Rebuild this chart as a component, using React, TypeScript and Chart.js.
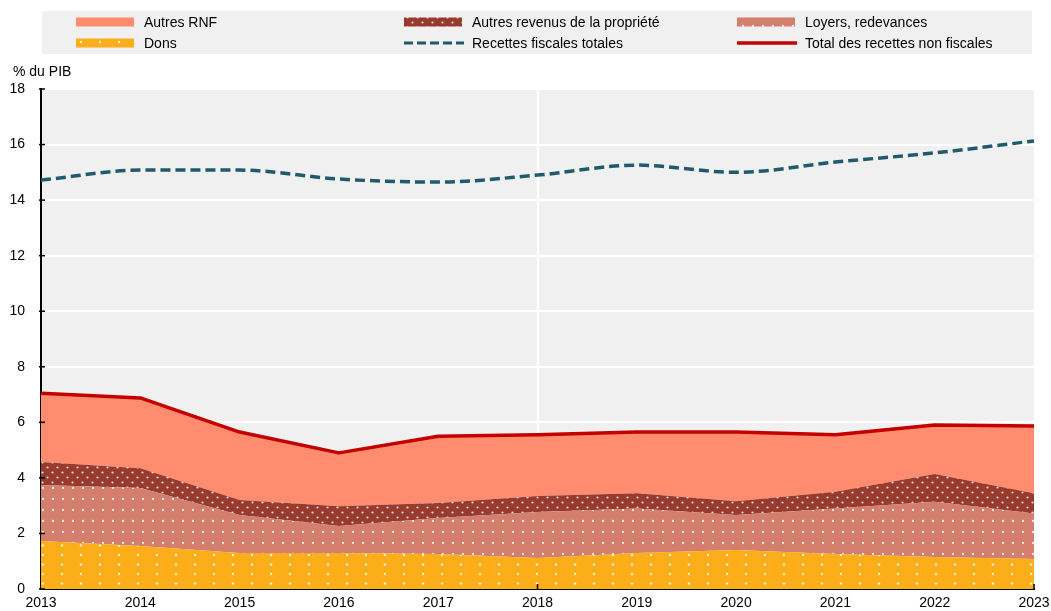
import React, { useEffect, useRef } from "react";
import { Chart, registerables } from "chart.js";

Chart.register(...registerables);

const years = ["2013", "2014", "2015", "2016", "2017", "2018", "2019", "2020", "2021", "2022", "2023"];
const dons = [1.73, 1.55, 1.3, 1.3, 1.26, 1.12, 1.3, 1.4, 1.26, 1.15, 1.08];
const loyers = [2.01, 2.09, 1.36, 0.97, 1.3, 1.65, 1.6, 1.26, 1.64, 1.99, 1.64];
const autresRevenus = [0.83, 0.71, 0.54, 0.71, 0.54, 0.58, 0.55, 0.5, 0.6, 1.0, 0.73];
const autresRNF = [2.48, 2.53, 2.45, 1.92, 2.4, 2.2, 2.2, 2.49, 2.05, 1.76, 2.42];
const recettesFiscales = [14.72, 15.08, 15.08, 14.76, 14.65, 14.9, 15.26, 15.0, 15.37, 15.7, 16.13];
const totalNonFiscal = [7.05, 6.88, 5.65, 4.9, 5.5, 5.55, 5.65, 5.65, 5.55, 5.9, 5.87];
const yTicks = [0, 2, 4, 6, 8, 10, 12, 14, 16, 18];

const FONT = "'Liberation Sans', Arial, sans-serif";
const C_RNF = "#FF8C6E";
const C_REV = "#983A2E";
const C_LOY = "#D47E6E";
const C_DONS = "#FBAE1A";
const C_TAX = "#215A6A";
const C_TOT = "#C40000";

function makePattern(bg: string, w: number, h: number, dots: [number, number][], r: number, alpha: number) {
  const c = document.createElement("canvas");
  c.width = w;
  c.height = h;
  const g = c.getContext("2d")!;
  g.fillStyle = bg;
  g.fillRect(0, 0, w, h);
  g.fillStyle = `rgba(255,255,255,${alpha})`;
  for (const [x, y] of dots) {
    g.beginPath();
    g.arc(x, y, r, 0, Math.PI * 2);
    g.fill();
  }
  return g.createPattern(c, "repeat")!;
}

export default function App() {
  const ref = useRef<HTMLCanvasElement>(null);
  useEffect(() => {
    const canvas = ref.current!;
    const ctx = canvas.getContext("2d")!;
    const pDons = makePattern(C_DONS, 19, 19, [[5, 4], [5, 13.5]], 1.2, 0.85);
    const pLoy = makePattern(C_LOY, 10, 22, [[3, 4], [3, 15]], 1.15, 0.85);
    const pRev = makePattern(C_REV, 10, 10, [[2.5, 2.5], [7.5, 7.5]], 1.1, 0.85);

    const bgPlugin = {
      id: "bg",
      beforeDraw(chart: any) {
        const { ctx, chartArea: a } = chart;
        ctx.save();
        ctx.fillStyle = "#F0F0F0";
        ctx.fillRect(a.left, a.top, a.right - a.left, a.bottom - a.top);
        ctx.restore();
      },
      afterDraw(chart: any) {
        const { ctx, chartArea: a, scales } = chart;
        ctx.save();
        ctx.strokeStyle = "#000";
        ctx.lineWidth = 1.5;
        for (const i of [5, 10]) {
          const x = scales.x.getPixelForValue(i);
          ctx.beginPath();
          ctx.moveTo(x, a.bottom);
          ctx.lineTo(x, a.bottom - 5);
          ctx.stroke();
        }
        for (const v of yTicks) {
          const y = scales.y.getPixelForValue(v);
          ctx.beginPath();
          ctx.moveTo(a.left - 2, y);
          ctx.lineTo(a.left + 4, y);
          ctx.stroke();
        }
        ctx.fillStyle = "#000";
        ctx.font = `14px ${FONT}`;
        ctx.textBaseline = "middle";
        ctx.textAlign = "left";
        ctx.fillText("% du PIB", 13, 72);
        ctx.fillStyle = "#F0F0F0";
        ctx.fillRect(42, 11, 990, 43);
        const cols = [76, 404, 737];
        const rows = [22, 43];
        const items: any[] = [
          { t: "Autres RNF", k: "area", f: C_RNF },
          { t: "Autres revenus de la propriété", k: "area", f: pRev },
          { t: "Loyers, redevances", k: "area", f: pLoy },
          { t: "Dons", k: "area", f: pDons },
          { t: "Recettes fiscales totales", k: "dash", f: C_TAX },
          { t: "Total des recettes non fiscales", k: "line", f: C_TOT },
        ];
        items.forEach((it, i) => {
          const x = cols[i % 3];
          const y = rows[Math.floor(i / 3)];
          if (it.k === "area") {
            ctx.fillStyle = it.f;
            ctx.fillRect(x, y - 4.5, 58, 9);
          } else if (it.k === "dash") {
            ctx.strokeStyle = it.f;
            ctx.lineWidth = 3;
            ctx.setLineDash([9, 4]);
            ctx.beginPath();
            ctx.moveTo(x, y);
            ctx.lineTo(x + 60, y);
            ctx.stroke();
            ctx.setLineDash([]);
          } else {
            ctx.strokeStyle = it.f;
            ctx.lineWidth = 3.5;
            ctx.beginPath();
            ctx.moveTo(x, y);
            ctx.lineTo(x + 60, y);
            ctx.stroke();
          }
          ctx.fillStyle = "#000";
          ctx.font = `14px ${FONT}`;
          ctx.fillText(it.t, x + 68, y + 1);
        });
        ctx.restore();
      },
    };

    const area = (label: string, data: number[], bg: any, fill: any) => ({
      label,
      data,
      backgroundColor: bg,
      borderWidth: 0,
      borderColor: "transparent",
      pointRadius: 0,
      fill,
      stack: "areas",
      tension: 0,
      order: 2,
    });

    const chart = new Chart(ctx, {
      type: "line",
      data: {
        labels: years,
        datasets: [
          area("Dons", dons, pDons, "origin"),
          area("Loyers, redevances", loyers, pLoy, "-1"),
          area("Autres revenus de la propriété", autresRevenus, pRev, "-1"),
          area("Autres RNF", autresRNF, C_RNF, "-1"),
          {
            label: "Recettes fiscales totales",
            data: recettesFiscales,
            borderColor: C_TAX,
            borderWidth: 3.5,
            borderDash: [10, 5],
            pointRadius: 0,
            fill: false,
            stack: "tax",
            cubicInterpolationMode: "monotone",
            order: 0,
          },
          {
            label: "Total des recettes non fiscales",
            data: totalNonFiscal,
            borderColor: C_TOT,
            borderWidth: 3.5,
            pointRadius: 0,
            fill: false,
            stack: "total",
            tension: 0,
            borderJoinStyle: "round",
            order: 0,
          },
        ] as any,
      },
      options: {
        responsive: false,
        animation: false,
        layout: { padding: { top: 89, right: 17, left: 0, bottom: 0 } },
        plugins: { legend: { display: false }, tooltip: { enabled: false } },
        scales: {
          x: {
            offset: false,
            grid: {
              drawTicks: false,
              color: (c: any) => (c.index === 5 ? "#FFFFFF" : "rgba(0,0,0,0)"),
              lineWidth: 2,
            },
            border: { display: true, color: "#000", width: 2 },
            ticks: {
              color: "#000",
              font: { family: FONT, size: 14 },
              padding: 6,
              maxRotation: 0,
              autoSkip: false,
            },
            afterFit: (s: any) => {
              s.height = 22;
              s.paddingLeft = 0;
              s.paddingRight = 0;
            },
          },
          y: {
            stacked: true,
            min: 0,
            max: 18,
            afterBuildTicks: (s: any) => {
              s.ticks = yTicks.map((v) => ({ value: v }));
            },
            grid: {
              color: "#FFFFFF",
              lineWidth: 2,
              drawTicks: false,
            },
            border: { display: true, color: "#000", width: 2 },
            ticks: {
              color: "#000",
              font: { family: FONT, size: 14 },
              padding: 16,
            },
            afterFit: (s: any) => {
              s.width = 41;
              s.paddingTop = 0;
              s.paddingBottom = 0;
            },
          },
        },
      },
      plugins: [bgPlugin],
    });
    return () => chart.destroy();
  }, []);

  return (
    <div style={{ position: "fixed", left: 0, top: 0, width: 1051, height: 611, background: "#fff" }}>
      <canvas ref={ref} width={1051} height={611} style={{ display: "block" }} />
    </div>
  );
}
